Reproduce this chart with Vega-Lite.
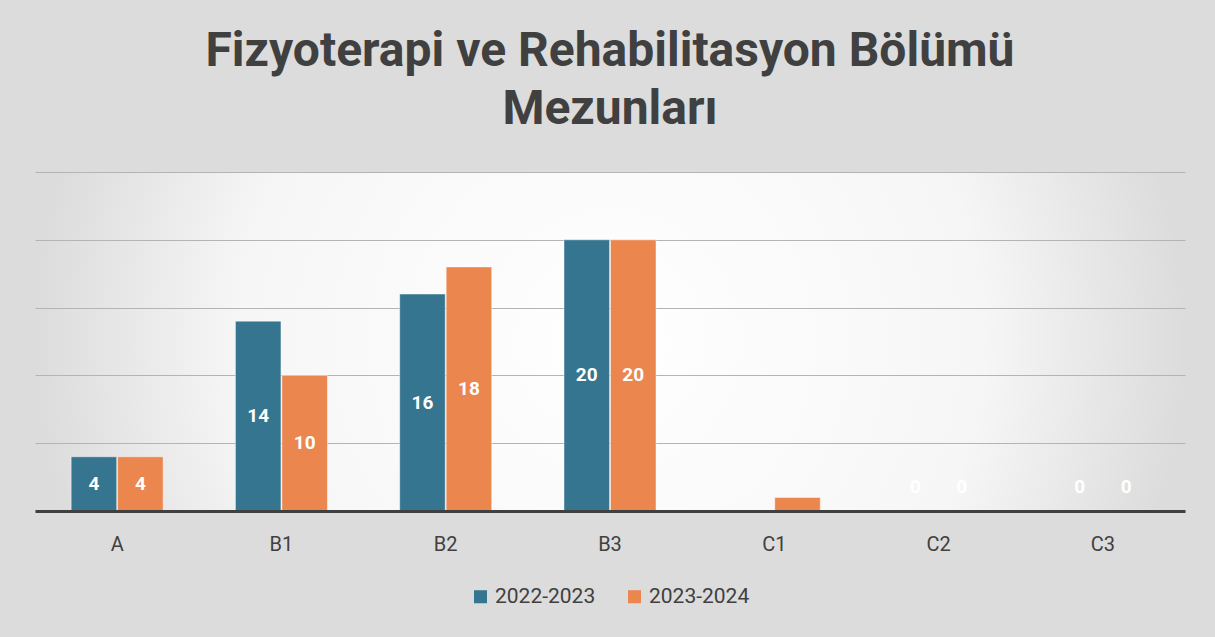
{
  "$schema": "https://vega.github.io/schema/vega-lite/v6.json",
  "autosize": {"type": "none"},
  "width": 1150,
  "height": 339,
  "padding": {"left": 35, "top": 172, "right": 30, "bottom": 126},
  "background": "#dcdcdc",
  "title": {
    "text": ["Fizyoterapi ve Rehabilitasyon Bölümü", "Mezunları"],
    "font": "Roboto",
    "fontSize": 48,
    "fontWeight": "bold",
    "color": "#404040",
    "lineHeight": 58,
    "anchor": "middle",
    "offset": 38
  },
  "data": {
    "values": [
      {"kategori": "A", "yil": "2022-2023", "mezun": 4},
      {"kategori": "A", "yil": "2023-2024", "mezun": 4},
      {"kategori": "B1", "yil": "2022-2023", "mezun": 14},
      {"kategori": "B1", "yil": "2023-2024", "mezun": 10},
      {"kategori": "B2", "yil": "2022-2023", "mezun": 16},
      {"kategori": "B2", "yil": "2023-2024", "mezun": 18},
      {"kategori": "B3", "yil": "2022-2023", "mezun": 20},
      {"kategori": "B3", "yil": "2023-2024", "mezun": 20},
      {"kategori": "C1", "yil": "2022-2023", "mezun": 0},
      {"kategori": "C1", "yil": "2023-2024", "mezun": 1},
      {"kategori": "C2", "yil": "2022-2023", "mezun": 0},
      {"kategori": "C2", "yil": "2023-2024", "mezun": 0},
      {"kategori": "C3", "yil": "2022-2023", "mezun": 0},
      {"kategori": "C3", "yil": "2023-2024", "mezun": 0}
    ]
  },
  "encoding": {
    "x": {
      "field": "kategori",
      "type": "nominal",
      "sort": null,
      "scale": {"paddingInner": 0.44, "paddingOuter": 0.22},
      "axis": {
        "title": null,
        "labelAngle": 0,
        "labelFont": "Roboto",
        "labelFontSize": 20,
        "labelColor": "#404040",
        "labelPadding": 23,
        "ticks": false,
        "domainColor": "#404040",
        "domainWidth": 3,
        "zindex": 2
      }
    },
    "xOffset": {"field": "yil", "type": "nominal", "scale": {"paddingInner": 0.02}}
  },
  "layer": [
    {
      "mark": {"type": "bar", "stroke": "#ffffff", "strokeOpacity": 0.45, "strokeWidth": 1},
      "encoding": {
        "y": {
          "field": "mezun",
          "type": "quantitative",
          "scale": {"domain": [0, 25], "nice": false},
          "axis": {
            "title": null,
            "values": [0, 5, 10, 15, 20, 25],
            "labels": false,
            "ticks": false,
            "domain": false,
            "grid": true,
            "gridColor": "#b4b4b4",
            "gridWidth": 1
          }
        },
        "color": {
          "field": "yil",
          "type": "nominal",
          "scale": {"range": ["#35758f", "#eb864f"]},
          "legend": {
            "title": null,
            "orient": "none",
            "legendX": 435,
            "legendY": 414,
            "direction": "horizontal",
            "symbolType": "square",
            "symbolSize": 170,
            "symbolStrokeWidth": 0,
            "labelFont": "Roboto",
            "labelFontSize": 21,
            "labelColor": "#404040",
            "labelOffset": 4,
            "columnPadding": 28
          }
        }
      }
    },
    {
      "transform": [{"filter": "datum.kategori != 'C1' && datum.mezun > 0"}],
      "mark": {"type": "text", "font": "Roboto", "fontSize": 19, "fontWeight": "bold", "color": "#ffffff", "baseline": "middle"},
      "encoding": {
        "y": {
          "field": "mezun",
          "type": "quantitative",
          "scale": {"domain": [0, 50], "nice": false},
          "axis": null
        },
        "text": {"field": "mezun", "type": "quantitative"}
      }
    },
    {
      "transform": [{"filter": "datum.kategori != 'C1' && datum.mezun == 0"}],
      "mark": {"type": "text", "font": "Roboto", "fontSize": 19, "fontWeight": "bold", "color": "#ffffff", "baseline": "middle", "dy": -24},
      "encoding": {
        "y": {
          "field": "mezun",
          "type": "quantitative",
          "scale": {"domain": [0, 50], "nice": false},
          "axis": null
        },
        "text": {"field": "mezun", "type": "quantitative"}
      }
    }
  ],
  "resolve": {"scale": {"y": "independent"}},
  "config": {
    "view": {
      "stroke": null,
      "fill": {
        "gradient": "radial",
        "x1": 0.5, "y1": 0.5, "r1": 0,
        "x2": 0.5, "y2": 0.5, "r2": 0.5,
        "stops": [
          {"offset": 0, "color": "#ffffff"},
          {"offset": 0.65, "color": "#f6f6f6"},
          {"offset": 1, "color": "#dcdcdc"}
        ]
      }
    }
  }
}
